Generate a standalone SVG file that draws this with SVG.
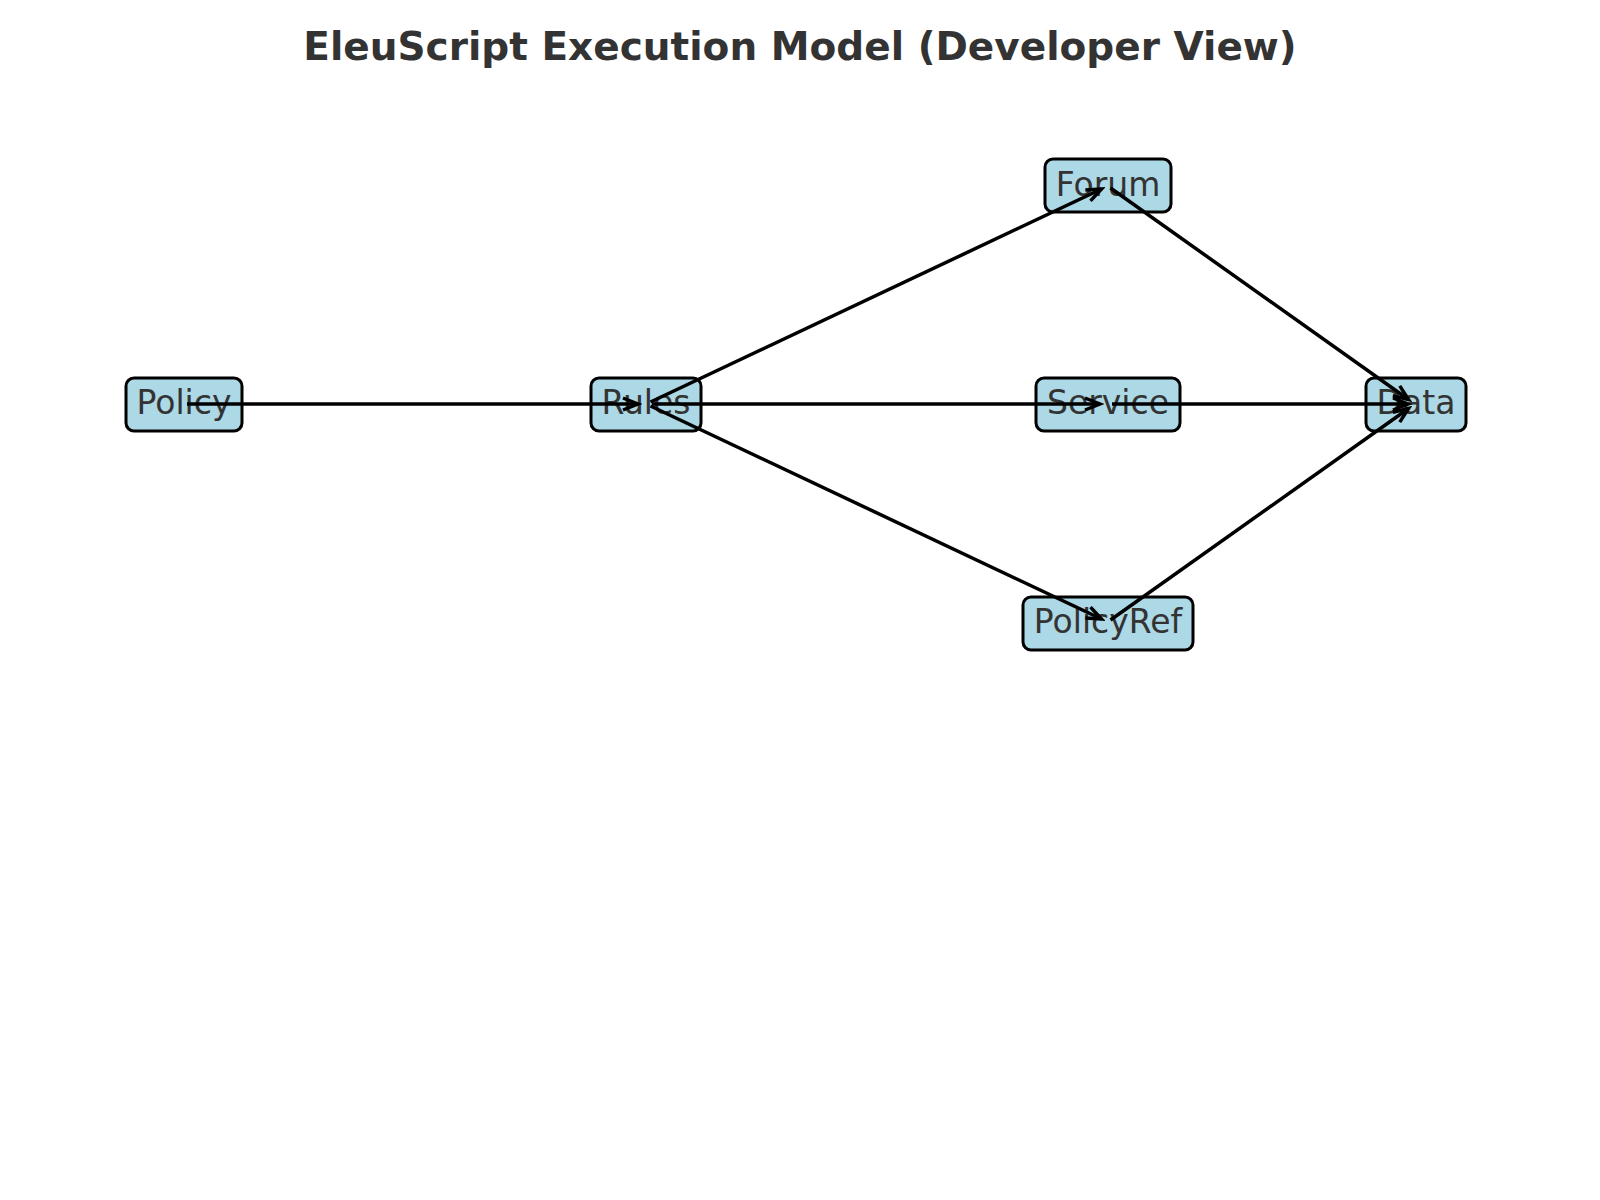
<svg xmlns="http://www.w3.org/2000/svg" width="1600" height="1200" viewBox="0 0 1600 1200">
<style>
.box{fill:#ADD8E6;stroke:#000;stroke-width:3}
.lbl{font-family:"DejaVu Sans",sans-serif;font-size:33px;fill:#333;text-anchor:middle}
.title{font-family:"DejaVu Sans",sans-serif;font-size:39px;font-weight:bold;fill:#333;text-anchor:middle}
.edge{stroke:#000;stroke-width:3.5;fill:none;marker-end:url(#arr)}
</style>
<defs>
<marker id="arr" markerUnits="userSpaceOnUse" viewBox="-20 -10 24 20" refX="0" refY="0" markerWidth="24" markerHeight="20" orient="auto">
<path d="M-15,-6 L0,0 L-15,6" fill="none" stroke="#000" stroke-width="3.5" stroke-linejoin="miter"/>
</marker>
</defs>
<rect width="1600" height="1200" fill="#fff"/>
<text class="title" x="800" y="60">EleuScript Execution Model (Developer View)</text>
<g id="node-policy"><rect class="box" x="126" y="378" width="116" height="53" rx="8"/><text class="lbl" x="184" y="414">Policy</text></g>
<g id="node-rules"><rect class="box" x="591" y="378" width="110" height="53" rx="8"/><text class="lbl" x="646" y="414">Rules</text></g>
<g id="node-forum"><rect class="box" x="1045" y="159" width="126" height="53" rx="8"/><text class="lbl" x="1108" y="196">Forum</text></g>
<g id="node-service"><rect class="box" x="1036" y="378" width="144" height="53" rx="8"/><text class="lbl" x="1108" y="414">Service</text></g>
<g id="node-policyref"><rect class="box" x="1023" y="597" width="170" height="53" rx="8"/><text class="lbl" x="1108" y="633">PolicyRef</text></g>
<g id="node-data"><rect class="box" x="1366" y="378" width="100" height="53" rx="8"/><text class="lbl" x="1416" y="414">Data</text></g>
<g id="connectors">
<line class="edge" x1="187" y1="404" x2="638" y2="404"/>
<line class="edge" x1="650.5" y1="402" x2="1101.5" y2="189"/>
<line class="edge" x1="652" y1="404" x2="1100" y2="404"/>
<line class="edge" x1="650.5" y1="406" x2="1101.5" y2="619"/>
<line class="edge" x1="1110.5" y1="188" x2="1408.5" y2="399.5"/>
<line class="edge" x1="1112" y1="404" x2="1408" y2="404"/>
<line class="edge" x1="1110.5" y1="620" x2="1408.5" y2="408.5"/>
</g>
</svg>
